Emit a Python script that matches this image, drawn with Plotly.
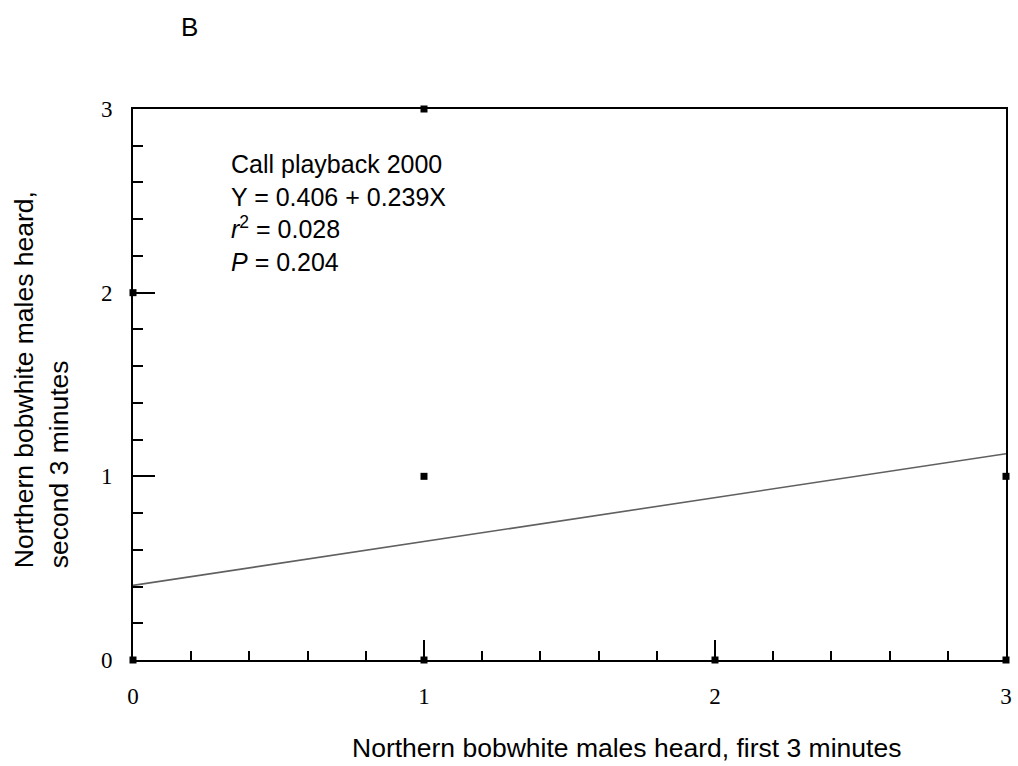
import plotly.graph_objects as go

# Data
x_pts = [0, 1, 2, 3, 0, 1, 1, 3]
y_pts = [0, 0, 0, 0, 2, 3, 1, 1]
intercept = 0.406
slope = 0.239
line_x = [0, 3]
line_y = [intercept + slope * v for v in line_x]
x_ticks = [0, 1, 2, 3]
y_ticks = [0, 1, 2, 3]

W, H = 1018, 766
L, R, T, B = 133, 6, 109, 106
PW, PH = W - L - R, H - T - B


def px_x(p):
    return (p - L) / PW


def px_y(p):
    return (H - B - p) / PH


fig = go.Figure()
fig.add_trace(go.Scatter(x=line_x, y=line_y, mode="lines",
                         line=dict(color="#606060", width=1.6),
                         cliponaxis=False, showlegend=False))
fig.add_trace(go.Scatter(x=x_pts, y=y_pts, mode="markers",
                         marker=dict(color="black", size=7, symbol="square"),
                         cliponaxis=False, showlegend=False))

fig.add_annotation(
    x=px_x(230), y=px_y(148), xref="paper", yref="paper", xanchor="left", yanchor="top",
    text="Call playback 2000<br>Y = 0.406 + 0.239X<br><i>r</i><sup>2</sup> = 0.028<br><i>P</i> = 0.204",
    showarrow=False, align="left",
    font=dict(family="Liberation Sans, Arial", size=25, color="black"))

fig.add_annotation(
    x=px_x(190), y=px_y(27), xref="paper", yref="paper", text="B", showarrow=False,
    xanchor="center", yanchor="middle",
    font=dict(family="Liberation Sans, Arial", size=26, color="black"))

# axis titles
fig.add_annotation(
    x=px_x(630), y=px_y(748), xref="paper", yref="paper", showarrow=False,
    xanchor="center", yanchor="middle",
    text="Northern bobwhite males heard, first 3 minutes",
    font=dict(family="Liberation Sans, Arial", size=26.5, color="black"))
fig.add_annotation(
    x=px_x(40), y=px_y(570), xref="paper", yref="paper", showarrow=False,
    xanchor="center", yanchor="bottom", textangle=-90, align="left",
    text="Northern bobwhite males heard,<br>second 3 minutes",
    font=dict(family="Liberation Sans, Arial", size=26.5, color="black"))

fig.update_layout(
    width=W, height=H,
    margin=dict(l=L, r=R, t=T, b=B),
    plot_bgcolor="white", paper_bgcolor="white",
    xaxis=dict(
        range=[0, 3], tickvals=x_ticks, ticktext=[str(v) for v in x_ticks],
        showgrid=False, zeroline=False, showline=True, linecolor="black", linewidth=2,
        mirror=True, ticks="inside", ticklen=20, tickwidth=2, tickcolor="black",
        minor=dict(ticks="inside", ticklen=9, tickwidth=1.5, tickcolor="black", dtick=0.2, showgrid=False),
        tickfont=dict(family="Liberation Serif, Times New Roman", size=23, color="black"),
        ticklabelstandoff=14,
    ),
    yaxis=dict(
        range=[0, 3], tickvals=y_ticks, ticktext=[str(v) for v in y_ticks],
        showgrid=False, zeroline=False, showline=True, linecolor="black", linewidth=2,
        mirror=True, ticks="inside", ticklen=22, tickwidth=2, tickcolor="black",
        minor=dict(ticks="inside", ticklen=10, tickwidth=1.5, tickcolor="black", dtick=0.2, showgrid=False),
        tickfont=dict(family="Liberation Serif, Times New Roman", size=23, color="black"),
        ticklabelstandoff=14,
    ),
)

fig.write_html("out.html")
